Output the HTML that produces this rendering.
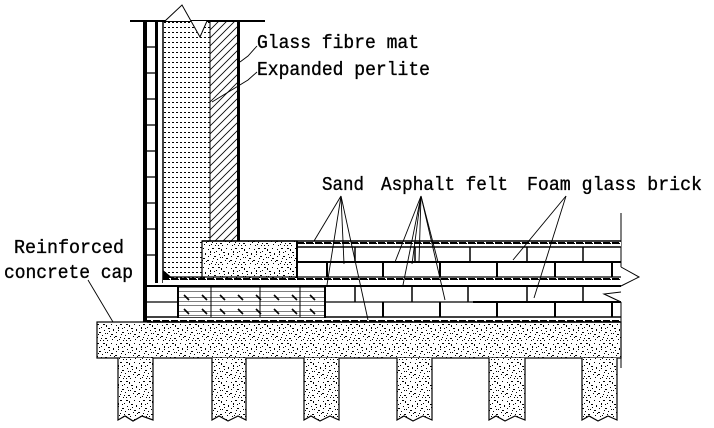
<!DOCTYPE html>
<html><head><meta charset="utf-8"><style>
html,body{margin:0;padding:0;background:#fff}
svg{display:block}
text{font-family:"Liberation Mono",monospace;font-size:19px;fill:#000;stroke:#000;stroke-width:0.35}
</style></head><body>
<svg width="714" height="428" viewBox="0 0 714 428" xmlns="http://www.w3.org/2000/svg">
<defs>
<pattern id="conc" width="23" height="19" patternUnits="userSpaceOnUse">
<rect width="23" height="19" fill="#fff"/>
<g fill="#000">
<rect x="1" y="2" width="1" height="1"/><rect x="5" y="1" width="2" height="1"/><rect x="9" y="4" width="1" height="1"/><rect x="14" y="2" width="1" height="2"/><rect x="19" y="1" width="1" height="1"/>
<rect x="3" y="7" width="1" height="1"/><rect x="7" y="9" width="2" height="1"/><rect x="12" y="7" width="1" height="1"/><rect x="17" y="8" width="1" height="1"/><rect x="21" y="6" width="1" height="2"/>
<rect x="0" y="13" width="2" height="1"/><rect x="5" y="14" width="1" height="1"/><rect x="10" y="12" width="1" height="1"/><rect x="13" y="15" width="2" height="1"/><rect x="18" y="13" width="1" height="1"/>
<rect x="2" y="17" width="1" height="1"/><rect x="8" y="17" width="1" height="1"/><rect x="15" y="10" width="1" height="1"/><rect x="20" y="16" width="1" height="1"/><rect x="11" y="17" width="1" height="1"/>
<rect x="3" y="4" width="1" height="2"/><rect x="11" y="1" width="2" height="1"/><rect x="16" y="5" width="2" height="1"/><rect x="6" y="11" width="1" height="1"/><rect x="1" y="9" width="1" height="1"/><rect x="19" y="11" width="2" height="1"/><rect x="9" y="15" width="1" height="1"/><rect x="15" y="17" width="1" height="1"/><rect x="22" y="14" width="1" height="1"/><rect x="13" y="10" width="1" height="1"/><rect x="7" y="5" width="1" height="1"/><rect x="4" y="16" width="1" height="1"/>
</g></pattern>
<pattern id="dots" width="4" height="5" patternUnits="userSpaceOnUse">
<rect width="4" height="5" fill="#fff"/><rect x="0" y="2" width="2" height="1" fill="#000"/>
</pattern>
<pattern id="diag" width="8" height="8" patternUnits="userSpaceOnUse">
<rect width="8" height="8" fill="#fff"/><path d="M0 8 L8 0 M-2 2 L2 -2 M6 10 L10 6" stroke="#000" stroke-width="0.8"/>
</pattern>
<pattern id="hatch" width="18" height="14" patternUnits="userSpaceOnUse">
<rect width="18" height="14" fill="#fff"/>
<path d="M0 3.5H18 M0 7.5H18 M0 11.5H18" stroke="#000" stroke-width="0.6"/>
<path d="M4 1 L9 6" stroke="#000" stroke-width="1.6"/>
</pattern>
<pattern id="strip" width="9" height="6" patternUnits="userSpaceOnUse">
<rect width="9" height="6" fill="#fff"/><rect x="0" y="2" width="7" height="2" fill="#000"/><rect x="7" y="3" width="1" height="1" fill="#000"/>
</pattern>
</defs>

<rect x="97" y="322" width="524" height="36" fill="url(#conc)" stroke="#000" stroke-width="1.2"/>
<g fill="url(#conc)" stroke="#000" stroke-width="1.2">
<path d="M118 358 V420 L125 416 L133 421 L142 416 L153 420 V358"/>
<path d="M212 358 V420 L219 416 L228 421 L238 416 L246 420 V358"/>
<path d="M304 358 V420 L311 416 L320 421 L330 416 L339 420 V358"/>
<path d="M397 358 V420 L404 416 L413 421 L423 416 L432 420 V358"/>
<path d="M489 358 V420 L496 416 L505 421 L515 416 L525 420 V358"/>
<path d="M582 358 V420 L589 416 L598 421 L608 416 L617 420 V358"/>
</g>
<line x1="621" y1="358" x2="621" y2="368" stroke="#000"/>

<rect x="147" y="317" width="474" height="5" fill="url(#strip)"/>
<line x1="147" y1="317" x2="621" y2="317" stroke="#000" stroke-width="1.5"/>
<line x1="147" y1="322" x2="621" y2="322" stroke="#000" stroke-width="1.5"/>

<rect x="163" y="21" width="47" height="262" fill="url(#dots)"/>
<rect x="210" y="21" width="27" height="220" fill="url(#diag)"/>
<line x1="130" y1="21" x2="265" y2="21" stroke="#000" stroke-width="2"/>
<path d="M165 21 L182 5 L200 37 L207 21 Z" fill="#fff"/>
<path d="M165 21 L182 5 L200 37 L207 21" fill="none" stroke="#000" stroke-width="1"/>
<rect x="143" y="21" width="4" height="301" fill="#000"/>
<rect x="155" y="21" width="3" height="262" fill="#000"/>
<line x1="163" y1="21" x2="163" y2="283" stroke="#000" stroke-width="1.5"/>
<line x1="210" y1="21" x2="210" y2="241" stroke="#000" stroke-width="1"/>
<rect x="237" y="21" width="3" height="220" fill="#000"/>
<g stroke="#000" stroke-width="1.3">
<line x1="147" y1="47" x2="155" y2="47"/><line x1="147" y1="73" x2="155" y2="73"/><line x1="147" y1="99" x2="155" y2="99"/><line x1="147" y1="125" x2="155" y2="125"/><line x1="147" y1="151" x2="155" y2="151"/><line x1="147" y1="177" x2="155" y2="177"/><line x1="147" y1="203" x2="155" y2="203"/><line x1="147" y1="229" x2="155" y2="229"/><line x1="147" y1="255" x2="155" y2="255"/>
</g>
<path d="M163 270 L175 280 L163 280 Z" fill="#000"/>

<rect x="202" y="241" width="95" height="42" fill="url(#conc)" stroke="#000" stroke-width="1.2"/>
<line x1="202" y1="241" x2="621" y2="241" stroke="#000" stroke-width="1.5"/>
<line x1="621" y1="213" x2="621" y2="267" stroke="#000" stroke-width="1"/>

<rect x="297" y="242" width="324" height="5" fill="url(#strip)"/>
<line x1="297" y1="247" x2="621" y2="247" stroke="#000" stroke-width="1.5"/>
<line x1="297" y1="262" x2="621" y2="262" stroke="#000" stroke-width="2"/>
<line x1="297" y1="241" x2="297" y2="283" stroke="#000" stroke-width="2"/>
<g stroke="#000" stroke-width="1.5">
<line x1="355" y1="247" x2="355" y2="262"/><line x1="415" y1="247" x2="415" y2="262"/><line x1="470" y1="247" x2="470" y2="262"/><line x1="527" y1="247" x2="527" y2="262"/><line x1="583" y1="247" x2="583" y2="262"/>
</g>
<g stroke="#000" stroke-width="2">
<line x1="327" y1="262" x2="327" y2="277"/><line x1="383" y1="262" x2="383" y2="277"/><line x1="440" y1="262" x2="440" y2="277"/><line x1="497" y1="262" x2="497" y2="277"/><line x1="555" y1="262" x2="555" y2="277"/><line x1="612" y1="262" x2="612" y2="277"/>
</g>
<rect x="163" y="278" width="458" height="6" fill="url(#strip)"/>
<line x1="163" y1="277" x2="621" y2="277" stroke="#000" stroke-width="1.2"/>
<line x1="147" y1="286" x2="621" y2="286" stroke="#000" stroke-width="2"/>

<rect x="178" y="287" width="147" height="30" fill="url(#hatch)"/>
<line x1="178" y1="286" x2="178" y2="318" stroke="#000" stroke-width="2"/>
<line x1="325" y1="286" x2="325" y2="318" stroke="#000" stroke-width="2"/>
<line x1="147" y1="302" x2="178" y2="302" stroke="#000" stroke-width="1.3"/>
<line x1="325" y1="302" x2="473" y2="302" stroke="#000" stroke-width="1.3"/>
<line x1="473" y1="302" x2="621" y2="302" stroke="#000" stroke-width="2"/>
<g stroke="#000" stroke-width="1.5">
<line x1="355" y1="286" x2="355" y2="302"/><line x1="412" y1="286" x2="412" y2="302"/><line x1="468" y1="286" x2="468" y2="302"/><line x1="527" y1="286" x2="527" y2="302"/><line x1="583" y1="286" x2="583" y2="302"/>
<line x1="211" y1="287" x2="211" y2="317" stroke-width="1"/><line x1="260" y1="287" x2="260" y2="317" stroke-width="1"/><line x1="300" y1="287" x2="300" y2="317" stroke-width="1"/>
</g>
<g stroke="#000" stroke-width="2">
<line x1="383" y1="302" x2="383" y2="317"/><line x1="440" y1="302" x2="440" y2="317"/><line x1="497" y1="302" x2="497" y2="317"/><line x1="555" y1="302" x2="555" y2="317"/><line x1="612" y1="302" x2="612" y2="317"/>
</g>
<rect x="621" y="268" width="20" height="40" fill="#fff"/>
<path d="M621 267 L639 277 L621 286 M621 292 L604 294 L621 302" fill="none" stroke="#000" stroke-width="1"/>
<line x1="621" y1="302" x2="621" y2="322" stroke="#000" stroke-width="1"/>

<g stroke="#000" stroke-width="0.9" fill="none">
<path d="M240 62 L248 56 L257 46"/>
<path d="M212 102 L248 80 L257 72"/>
<line x1="341" y1="196" x2="314" y2="241"/><line x1="341" y1="196" x2="327" y2="285"/><line x1="341" y1="196" x2="344" y2="264"/><line x1="341" y1="196" x2="368" y2="320"/>
<line x1="421" y1="196" x2="395" y2="262"/><line x1="421" y1="196" x2="403" y2="285"/><line x1="421" y1="196" x2="412" y2="264"/><line x1="421" y1="196" x2="419" y2="262"/><line x1="421" y1="196" x2="445" y2="300"/><line x1="421" y1="196" x2="438" y2="262"/>
<line x1="566" y1="196" x2="513" y2="260"/><line x1="566" y1="196" x2="534" y2="298"/>
<line x1="88" y1="280" x2="113" y2="322"/>
</g>

<text x="257" y="48" textLength="162" lengthAdjust="spacingAndGlyphs">Glass fibre mat</text>
<text x="257" y="75" textLength="173" lengthAdjust="spacingAndGlyphs">Expanded perlite</text>
<text x="322" y="190" textLength="42" lengthAdjust="spacingAndGlyphs">Sand</text>
<text x="381" y="190" textLength="127" lengthAdjust="spacingAndGlyphs">Asphalt felt</text>
<text x="527" y="190" textLength="175" lengthAdjust="spacingAndGlyphs">Foam glass brick</text>
<text x="14" y="253" textLength="110" lengthAdjust="spacingAndGlyphs">Reinforced</text>
<text x="4" y="278" textLength="129" lengthAdjust="spacingAndGlyphs">concrete cap</text>
</svg>
</body></html>
